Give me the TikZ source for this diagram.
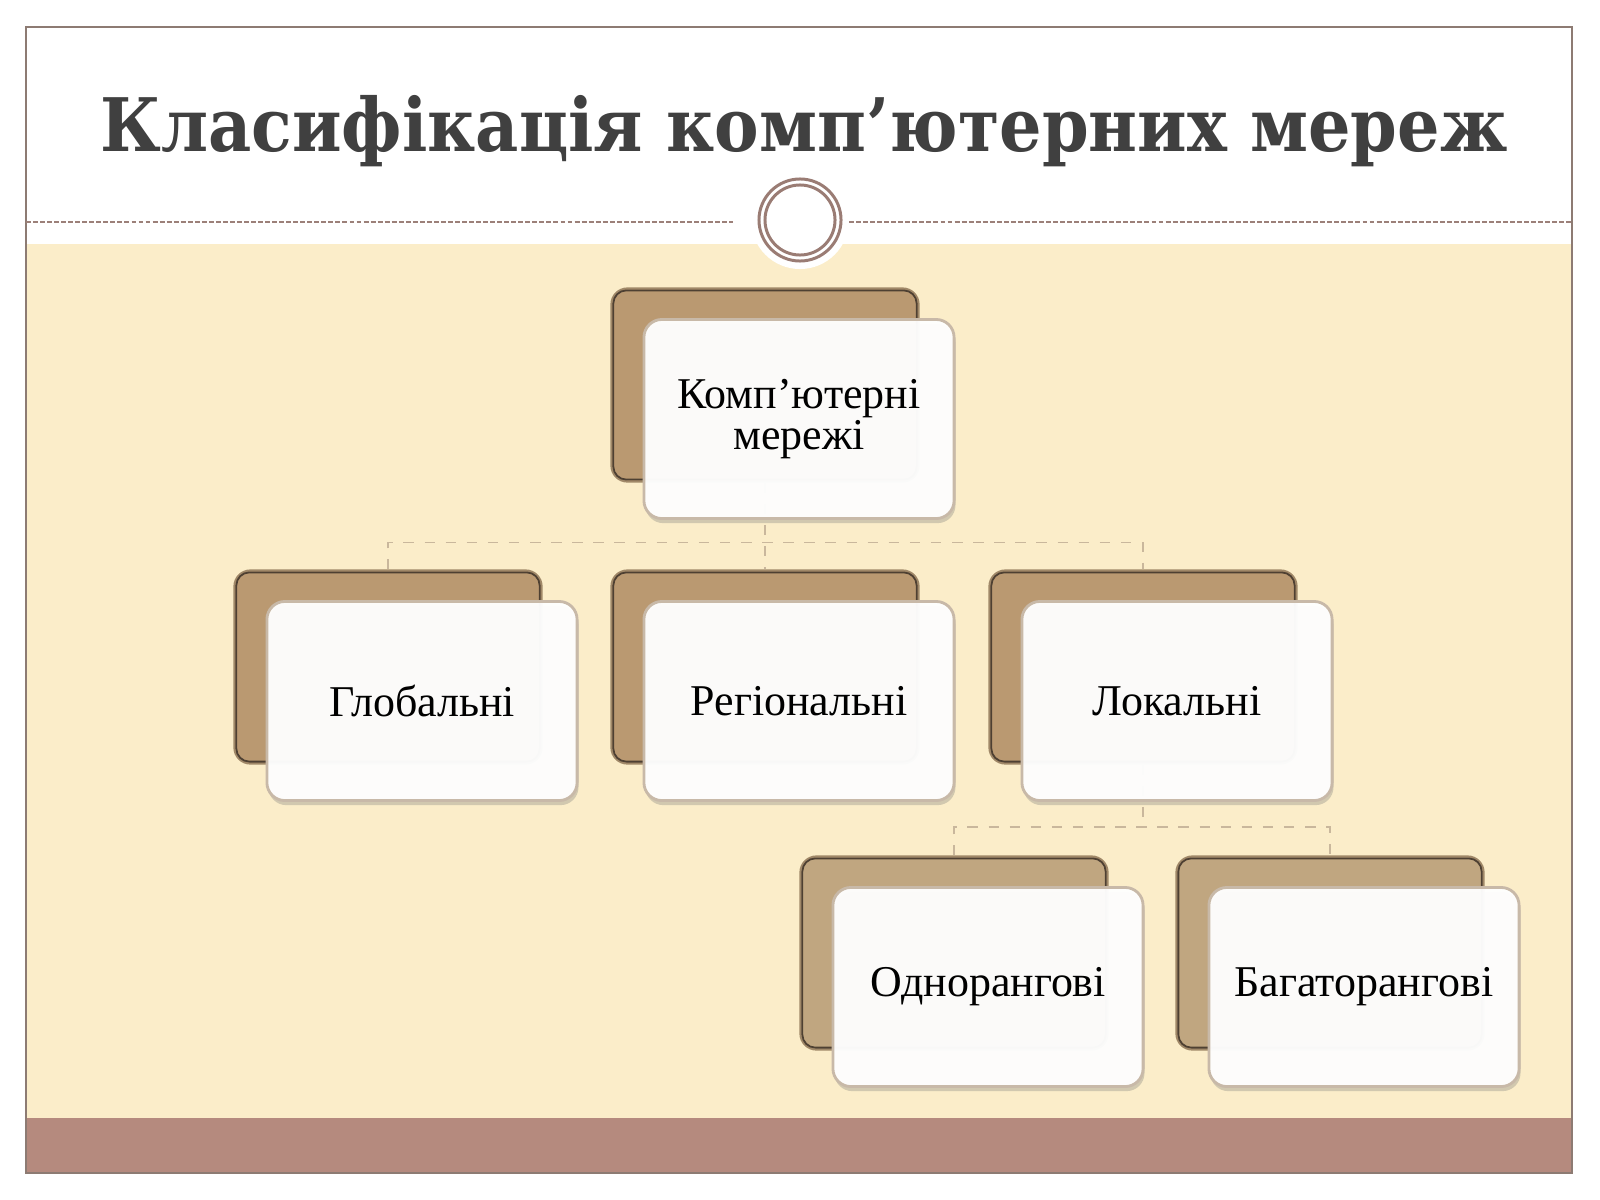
\documentclass[tikz,border=0pt]{standalone}
\usepackage{fontspec}
\setmainfont{Liberation Serif}
\newfontfamily\titlefont{DejaVu Serif}[FakeStretch=0.905]
\usepackage{tikz}
\usetikzlibrary{positioning, calc, shadows}
\definecolor{slcream}{RGB}{251,237,201}
\definecolor{slband}{RGB}{181,138,126}
\definecolor{slframe}{RGB}{141,123,115}
\definecolor{sltitle}{RGB}{64,64,64}
\definecolor{sldash}{RGB}{156,128,121}
\definecolor{slring}{RGB}{154,124,116}
\definecolor{slback}{RGB}{186,153,113}
\definecolor{slbacklt}{RGB}{192,166,128}
\definecolor{slbackedge}{RGB}{160,136,104}
\definecolor{slbackline}{RGB}{78,64,50}
\definecolor{slfrontedge}{RGB}{200,185,168}
\definecolor{sllink}{RGB}{201,183,156}

\tikzset{
  backbox/.style={draw=slbackedge, fill=slback, line width=0.6pt,
    rounded corners=0.16cm, minimum width=3.07cm, minimum height=1.93cm,
    inner sep=0pt},
  backline/.style={draw=slbackline, line width=0.5pt, rounded corners=0.13cm},
  frontbox/.style={draw=slfrontedge, fill=white, fill opacity=0.96,
    text opacity=1, line width=0.8pt, rounded corners=0.18cm,
    minimum width=3.10cm, minimum height=1.99cm, inner sep=0pt,
    align=center, font=\fontsize{12.5}{11.7}\selectfont,
    drop shadow={shadow xshift=0.4pt, shadow yshift=-1.3pt,
      opacity=0.3, fill=black!55}},
  link/.style={draw=sllink, dashed, line width=0.5pt},
}

\begin{document}
\begin{tikzpicture}[x=0.01cm, y=-0.01cm]
\useasboundingbox (0,0) rectangle (1600,1200);
% slide
\fill[white] (0,0) rectangle (1600,1200);
\fill[slcream] (26,244) rectangle (1572,1118);
\fill[slband] (26,1118) rectangle (1572,1173);
\draw[slframe, line width=0.6pt] (26,27) rectangle (1572,1173);

% title
\node[sltitle, anchor=base, font=\titlefont\bfseries\fontsize{21}{25}\selectfont]
  (title) at (804,151) {Класифікація комп’ютерних мереж};

% ---- divider with ring ----
\draw[sldash, line width=0.55pt, dash pattern=on 1.4pt off 0.6pt] (26,222) -- (733,222);
\draw[sldash, line width=0.55pt, dash pattern=on 1.4pt off 0.6pt] (835,222) -- (1572,222);
\fill[white] (800,220) circle (0.49cm);
\draw[slring, line width=0.85pt] (800,220) circle (0.41cm);
\draw[slring, line width=0.85pt] (800,220) circle (0.35cm);

% ---- back cards ----
\node[backbox] (netB)  at (765,385) {};
\node[backbox] (globB) at (388,667) {};
\node[backbox] (regB)  at (765,667) {};
\node[backbox] (locB)  at (1143,667) {};
\node[backbox, fill=slbacklt] (oneB)  at (954,953) {};
\node[backbox, fill=slbacklt] (manyB) at (1330,953) {};
\foreach \b in {netB,globB,regB,locB,oneB,manyB}{
  \draw[backline] ([shift={(3,3)}]\b.north west) rectangle ([shift={(-3,-3)}]\b.south east);
}

% ---- links ----
\coordinate (busA) at ($(netB.south)+(0,60)$);
\draw[link] (netB.south) -- (regB.north);
\draw[link] (globB.north) |- (busA) -| (locB.north);
\coordinate (busB) at ($(locB.south)+(0,62)$);
\draw[link] (locB.south) -- (busB);
\draw[link] (oneB.north) |- (busB) -| (manyB.north);

% ---- front cards ----
\node[frontbox] (net)  at ([shift={(34,34)}]netB.center)  {Комп’ютерні\\мережі};
\node[frontbox] (glob) at ([shift={(34,34)}]globB.center) {Глобальні};
\node[frontbox] (reg)  at ([shift={(34,34)}]regB.center)  {Регіональні};
\node[frontbox] (loc)  at ([shift={(34,34)}]locB.center)  {Локальні};
\node[frontbox] (one)  at ([shift={(34,34)}]oneB.center)  {Однорангові};
\node[frontbox] (many) at ([shift={(34,34)}]manyB.center) {Багаторангові};
\end{tikzpicture}
\end{document}
